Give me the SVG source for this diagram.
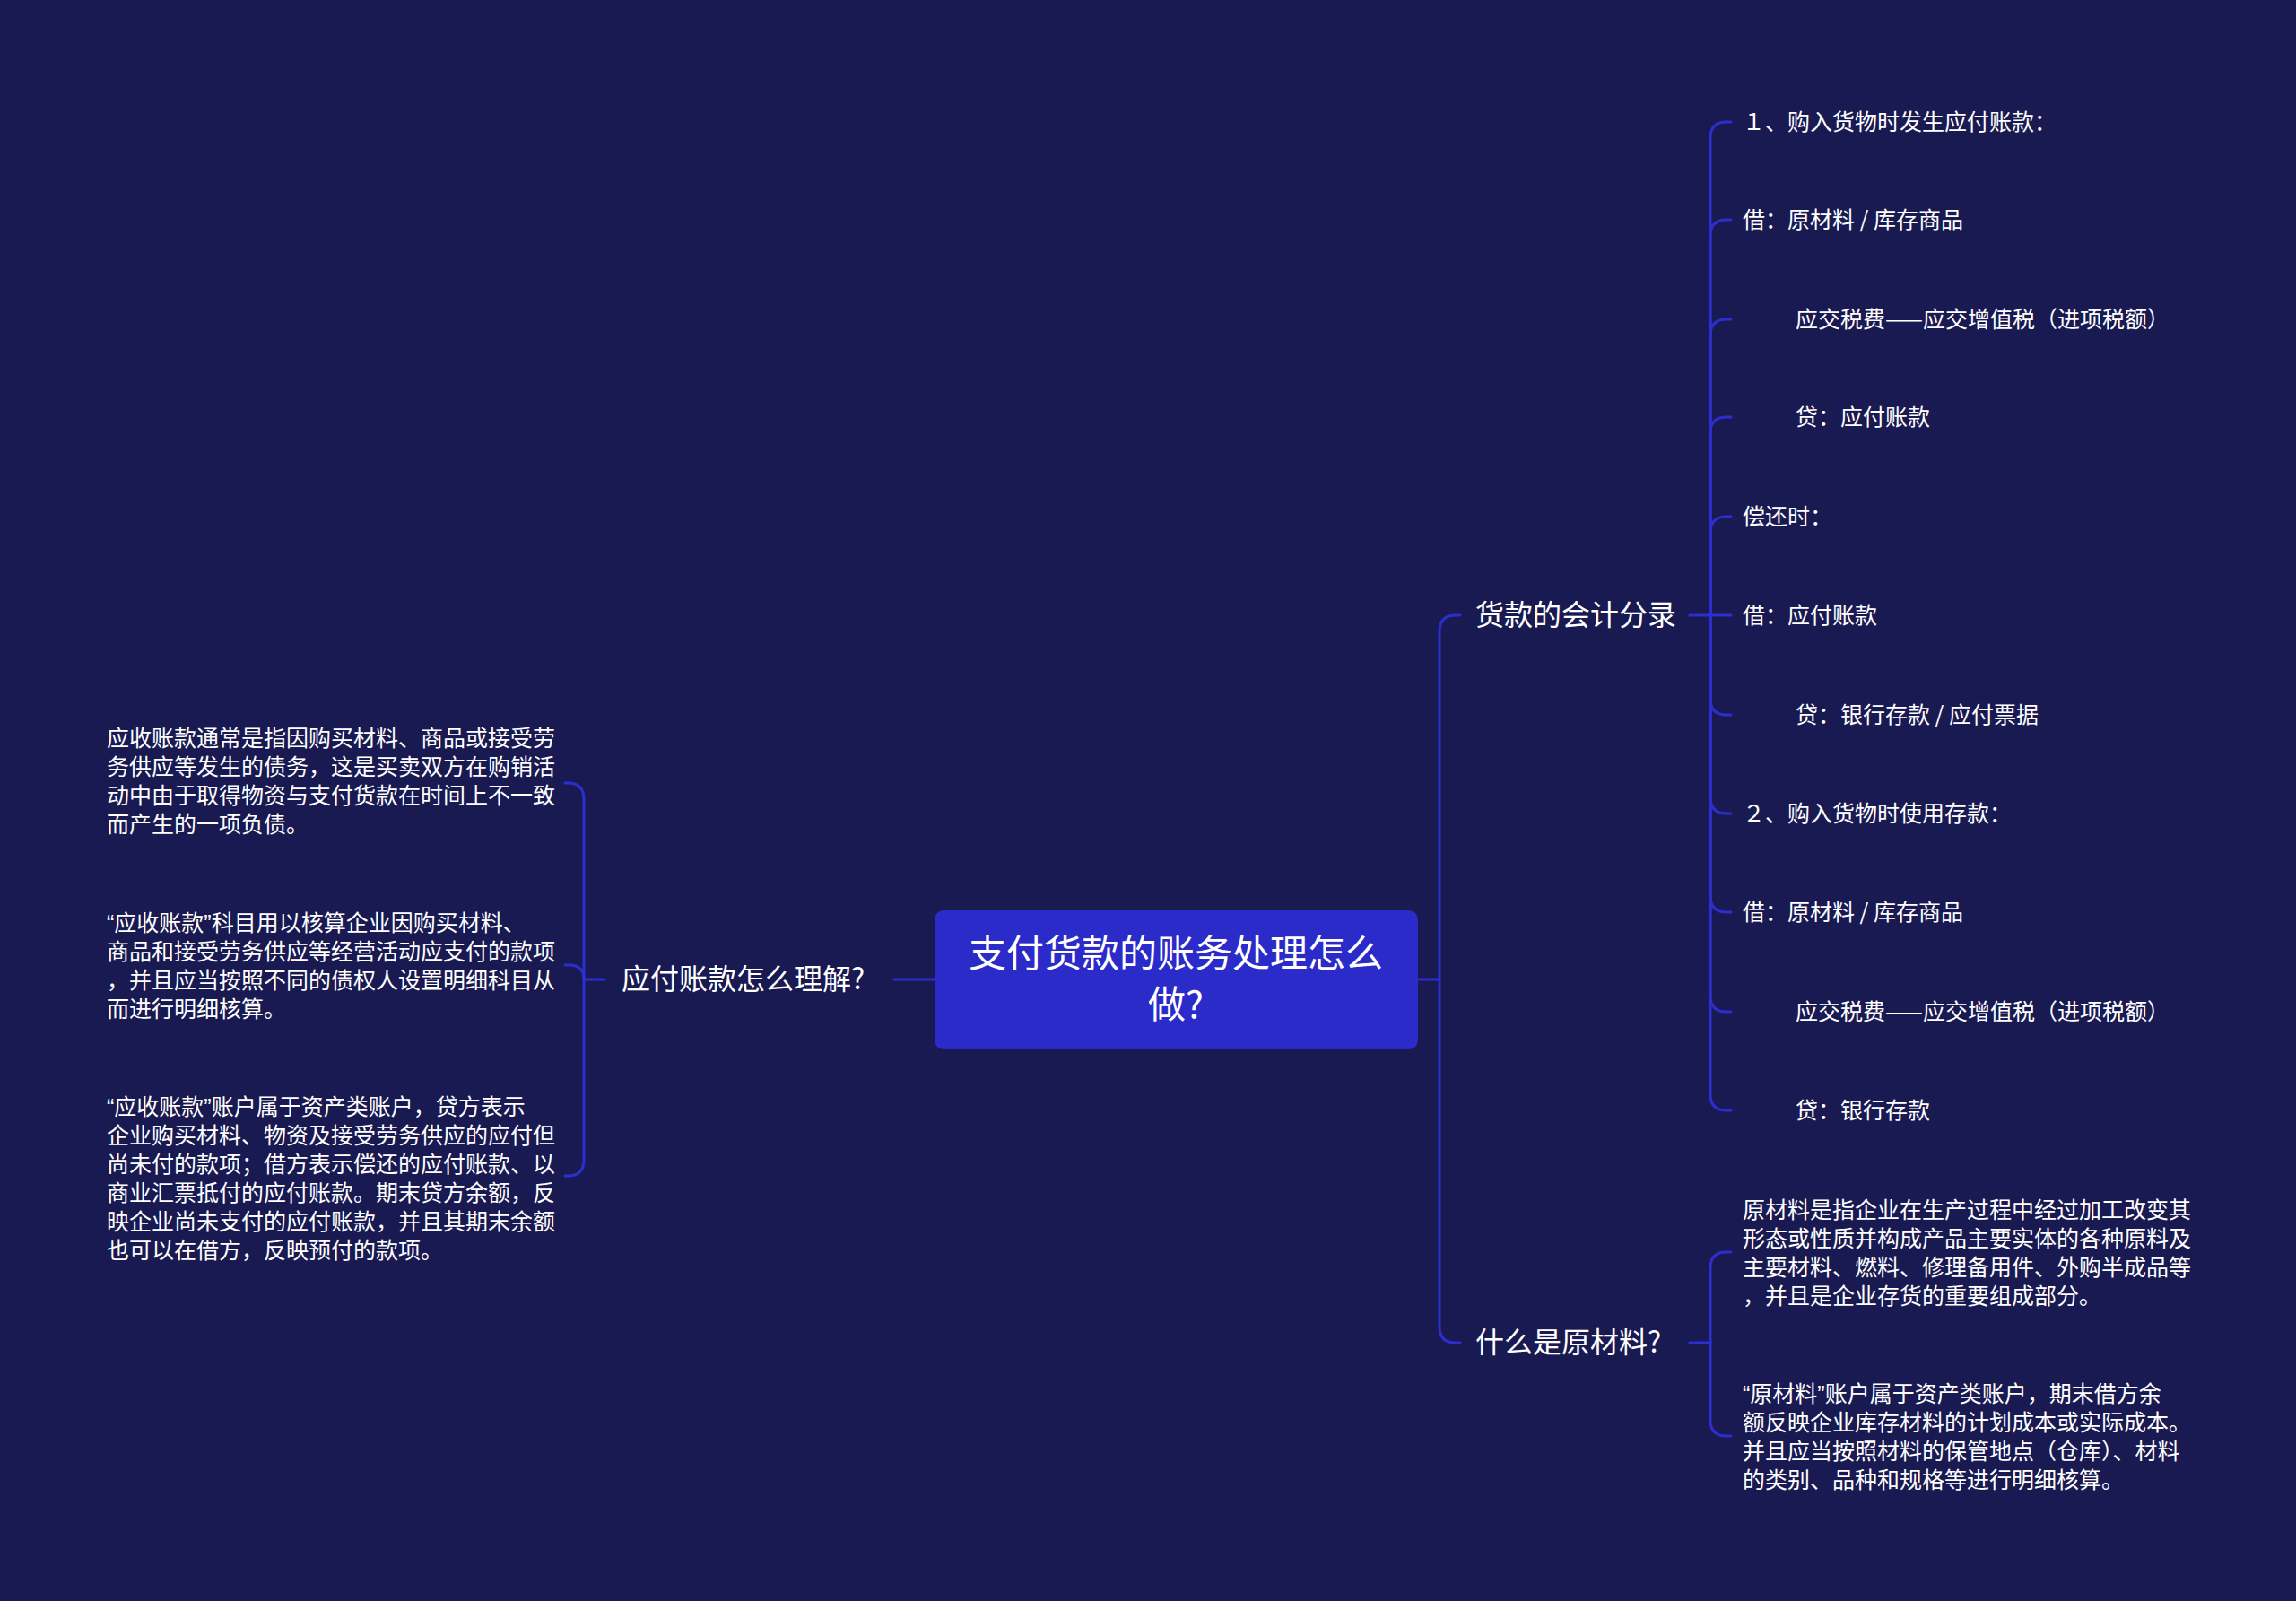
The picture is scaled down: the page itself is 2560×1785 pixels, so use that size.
<svg xmlns="http://www.w3.org/2000/svg" width="2560" height="1785" viewBox="0 0 2560 1785">
<style>
.bg{fill:#1a1a52}
.ln{fill:none;stroke:#2c2fd0;stroke-width:3;stroke-linecap:round}
.t{font-family:"Noto Sans CJK SC","Liberation Sans",sans-serif;fill:#ffffff}
.q{font-family:"Liberation Sans","Noto Sans CJK SC",sans-serif}
.c{font-size:42px;text-anchor:middle}
.b{font-size:32px}
.l{font-size:25px}
.root{fill:#2a2bc9}
</style>
<rect class="bg" x="0" y="0" width="2560" height="1785"/>
<g id="connectors">
<path class="ln" d="M1042,1092 L997,1092"/>
<path class="ln" d="M674,1092 L651,1092"/>
<path class="ln" d="M651,1092 L651,891 Q651,873 633,873 L630,873"/>
<path class="ln" d="M651,1092 Q651,1076 635,1076 L630,1076"/>
<path class="ln" d="M651,1092 L651,1293 Q651,1311 633,1311 L630,1311"/>
<path class="ln" d="M1581,1092 L1605,1092"/>
<path class="ln" d="M1605,1092 L1605,704 Q1605,686 1623,686 L1628,686"/>
<path class="ln" d="M1605,1092 L1605,1479 Q1605,1497 1623,1497 L1628,1497"/>
<path class="ln" d="M1884,686 L1930,686"/>
<path class="ln" d="M1907,686 L1907,154 Q1907,136 1925,136 L1930,136"/>
<path class="ln" d="M1907,686 L1907,263 Q1907,245 1925,245 L1930,245"/>
<path class="ln" d="M1907,686 L1907,374 Q1907,356 1925,356 L1930,356"/>
<path class="ln" d="M1907,686 L1907,483 Q1907,465 1925,465 L1930,465"/>
<path class="ln" d="M1907,686 L1907,594 Q1907,576 1925,576 L1930,576"/>
<path class="ln" d="M1907,686 L1907,779 Q1907,797 1925,797 L1930,797"/>
<path class="ln" d="M1907,686 L1907,889 Q1907,907 1925,907 L1930,907"/>
<path class="ln" d="M1907,686 L1907,999 Q1907,1017 1925,1017 L1930,1017"/>
<path class="ln" d="M1907,686 L1907,1110 Q1907,1128 1925,1128 L1930,1128"/>
<path class="ln" d="M1907,686 L1907,1220 Q1907,1238 1925,1238 L1930,1238"/>
<path class="ln" d="M1884,1497 L1907,1497"/>
<path class="ln" d="M1907,1497 L1907,1414 Q1907,1396 1925,1396 L1930,1396"/>
<path class="ln" d="M1907,1497 L1907,1583 Q1907,1601 1925,1601 L1930,1601"/>
</g>
<g id="root">
<rect class="root" x="1042" y="1015" width="539" height="155" rx="10"/>
<text class="t c" x="1311" y="1078">支付货款的账务处理怎么</text>
<text class="t c" x="1311" y="1135">做?</text>
</g>
<g id="n-yingfu">
<text class="t b" x="693" y="1103">应付账款怎么理解?</text>
</g>
<g id="n-yingfu-1">
<text class="t l" x="119" y="832">应收账款通常是指因购买材料、商品或接受劳</text>
<text class="t l" x="119" y="864">务供应等发生的债务，这是买卖双方在购销活</text>
<text class="t l" x="119" y="896">动中由于取得物资与支付货款在时间上不一致</text>
<text class="t l" x="119" y="928">而产生的一项负债。</text>
</g>
<g id="n-yingfu-2">
<text class="t l" x="119" y="1038"><tspan class="q">“</tspan>应收账款<tspan class="q">”</tspan>科目用以核算企业因购买材料、</text>
<text class="t l" x="119" y="1070">商品和接受劳务供应等经营活动应支付的款项</text>
<text class="t l" x="119" y="1102">，并且应当按照不同的债权人设置明细科目从</text>
<text class="t l" x="119" y="1134">而进行明细核算。</text>
</g>
<g id="n-yingfu-3">
<text class="t l" x="119" y="1243"><tspan class="q">“</tspan>应收账款<tspan class="q">”</tspan>账户属于资产类账户，贷方表示</text>
<text class="t l" x="119" y="1275">企业购买材料、物资及接受劳务供应的应付但</text>
<text class="t l" x="119" y="1307">尚未付的款项；借方表示偿还的应付账款、以</text>
<text class="t l" x="119" y="1339">商业汇票抵付的应付账款。期末贷方余额，反</text>
<text class="t l" x="119" y="1371">映企业尚未支付的应付账款，并且其期末余额</text>
<text class="t l" x="119" y="1403">也可以在借方，反映预付的款项。</text>
</g>
<g id="n-fenlu">
<text class="t b" x="1645" y="697">货款的会计分录</text>
</g>
<g id="n-fenlu-leaves">
<text class="t l" x="1943" y="145">１、购入货物时发生应付账款：</text>
<text class="t l" x="1943" y="254">借：原材料 / 库存商品</text>
<text class="t l" x="2002" y="365">应交税费——应交增值税（进项税额）</text>
<text class="t l" x="2002" y="474">贷：应付账款</text>
<text class="t l" x="1943" y="585">偿还时：</text>
<text class="t l" x="1943" y="695">借：应付账款</text>
<text class="t l" x="2002" y="806">贷：银行存款 / 应付票据</text>
<text class="t l" x="1943" y="916">２、购入货物时使用存款：</text>
<text class="t l" x="1943" y="1026">借：原材料 / 库存商品</text>
<text class="t l" x="2002" y="1137">应交税费——应交增值税（进项税额）</text>
<text class="t l" x="2002" y="1247">贷：银行存款</text>
</g>
<g id="n-yuancailiao">
<text class="t b" x="1645" y="1508">什么是原材料?</text>
</g>
<g id="n-yuancailiao-1">
<text class="t l" x="1943" y="1358">原材料是指企业在生产过程中经过加工改变其</text>
<text class="t l" x="1943" y="1390">形态或性质并构成产品主要实体的各种原料及</text>
<text class="t l" x="1943" y="1422">主要材料、燃料、修理备用件、外购半成品等</text>
<text class="t l" x="1943" y="1454">，并且是企业存货的重要组成部分。</text>
</g>
<g id="n-yuancailiao-2">
<text class="t l" x="1943" y="1563"><tspan class="q">“</tspan>原材料<tspan class="q">”</tspan>账户属于资产类账户，期末借方余</text>
<text class="t l" x="1943" y="1595">额反映企业库存材料的计划成本或实际成本。</text>
<text class="t l" x="1943" y="1627">并且应当按照材料的保管地点（仓库）、材料</text>
<text class="t l" x="1943" y="1659">的类别、品种和规格等进行明细核算。</text>
</g>
</svg>
